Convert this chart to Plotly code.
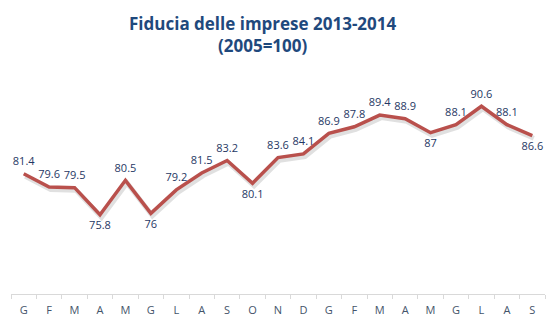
import plotly.graph_objects as go

# Monthly business confidence index, Jan 2013 - Sep 2014 (2005=100)
months = ["G", "F", "M", "A", "M", "G", "L", "A", "S", "O", "N", "D",
          "G", "F", "M", "A", "M", "G", "L", "A", "S"]
values = [81.4, 79.6, 79.5, 75.8, 80.5, 76.0, 79.2, 81.5, 83.2, 80.1, 83.6, 84.1,
          86.9, 87.8, 89.4, 88.9, 87.0, 88.1, 90.6, 88.1, 86.6]
labels = ["81.4", "79.6", "79.5", "75.8", "80.5", "76", "79.2", "81.5", "83.2", "80.1",
          "83.6", "84.1", "86.9", "87.8", "89.4", "88.9", "87", "88.1", "90.6", "88.1", "86.6"]
title_lines = ["Fiducia delle imprese 2013-2014", "(2005=100)"]

FONT = "Open Sans, Liberation Sans, sans-serif"
x = list(range(len(months)))
below = {"75.8", "76", "80.1", "87", "86.6"}
positions = ["bottom center" if lab in below else "top center" for lab in labels]

fig = go.Figure()

# soft shadow under the line
fig.add_trace(go.Scatter(
    x=[v + 0.06 for v in x], y=[v - 0.35 for v in values],
    mode="lines", line=dict(color="rgba(0,0,0,0.12)", width=5),
    hoverinfo="skip", showlegend=False,
))

# invisible markers keep the value labels clear of the line
fig.add_trace(go.Scatter(
    x=x, y=values, mode="lines+markers+text",
    line=dict(color="#B9504C", width=3.5),
    marker=dict(size=8, color="rgba(0,0,0,0)"),
    text=labels, textposition=positions,
    textfont=dict(family=FONT, size=11, color="#1F3864"),
    showlegend=False,
))

# two-line bold title above the plot area
for i, line in enumerate(title_lines):
    fig.add_annotation(
        text="<b>%s</b>" % line, xref="paper", yref="paper",
        x=0.472, y=1.23 - i * 0.102, xanchor="center", yanchor="middle",
        showarrow=False, font=dict(family=FONT, size=17, color="#1F497D"),
    )

fig.update_layout(
    width=555, height=327,
    margin=dict(l=11, r=10, t=74, b=28),
    paper_bgcolor="white", plot_bgcolor="white",
    xaxis=dict(
        range=[-0.5, len(months) - 0.5],
        tickvals=x, ticktext=months,
        ticks="", showgrid=False, zeroline=False,
        showline=True, linecolor="#D9D9D9", linewidth=1,
        ticklabelstandoff=6,
        tickfont=dict(family=FONT, size=11, color="#44546A"),
        minor=dict(tickvals=[i - 0.5 for i in range(len(months) + 1)],
                   ticks="outside", ticklen=4, tickcolor="#D9D9D9", showgrid=False),
    ),
    yaxis=dict(range=[65, 95], visible=False, showgrid=False, zeroline=False),
)

fig.write_html("out.html")
